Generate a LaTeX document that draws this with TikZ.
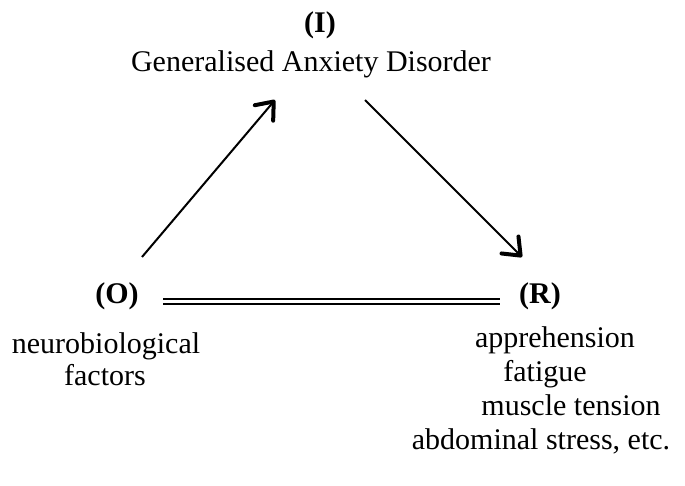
\documentclass[tikz,border=0pt]{standalone}
\usepackage{fontspec}
\setmainfont{Liberation Serif}
\usetikzlibrary{arrows.meta}
\tikzset{
  txt/.style={anchor=base, inner sep=0pt, font=\fontsize{30}{34}\selectfont},
  lab/.style={anchor=base, inner sep=0pt, font=\fontsize{30}{34}\selectfont\bfseries},
  arr/.style={line width=2pt, -{Straight Barb[length=15pt,width=24pt,line width=4pt,round]}},
  dbl/.style={line width=2pt, double, double distance=3.2pt}
}
\begin{document}
\begin{tikzpicture}[x=1pt,y=-1pt]
\useasboundingbox (0,0) rectangle (685,486);
\node[lab] (I) at (320,33) {(I)};
\node[txt] (gad) at (311,72) {Generalised Anxiety Disorder};
\node[lab] (O) at (117,303) {(O)};
\node[txt] (o1) at (106,353) {neurobiological};
\node[txt] (o2) at (105,385) {factors};
\node[lab] (R) at (540,303) {(R)};
\node[txt] (r1) at (555,347) {apprehension};
\node[txt] (r2) at (545,381) {fatigue};
\node[txt] (r3) at (571,415) {muscle tension};
\node[txt] (r4) at (541,449) {abdominal stress, etc.};
\coordinate (a1s) at (142,257);
\coordinate (a1e) at (275,100);
\coordinate (a2s) at (365,100);
\coordinate (a2e) at (522,257);
\coordinate (ds) at (163,301.8);
\coordinate (de) at (500,301.8);
\draw[arr] (a1s) -- (a1e);
\draw[arr] (a2s) -- (a2e);
\draw[dbl] (ds) -- (de);
\end{tikzpicture}
\end{document}
